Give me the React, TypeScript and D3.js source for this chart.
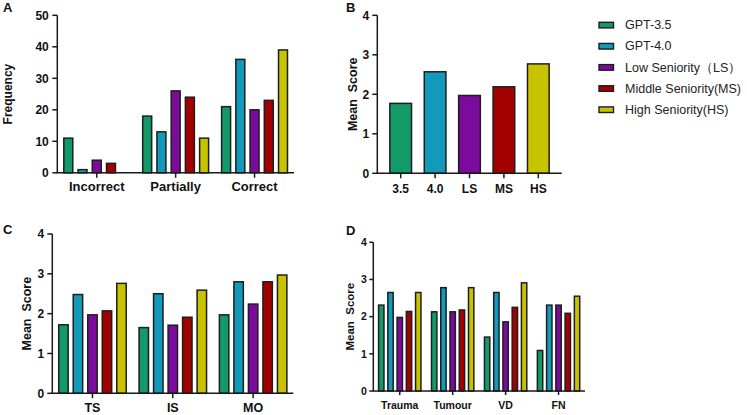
import React from "react";
import * as d3 from "d3";

// ---------- data ----------
const seriesNames = ["GPT-3.5", "GPT-4.0", "Low Seniority（LS）", "Middle Seniority(MS)", "High Seniority(HS)"];
const seriesColors = ["#129A68", "#1399BA", "#7A0B9C", "#A30000", "#C8C300"];

// Panel A – frequency
const aCategories = ["Incorrect", "Partially", "Correct"];
const aGPT35 = [11, 18, 21];
const aGPT40 = [1, 13, 36];
const aLS = [4, 26, 20];
const aMS = [3, 24, 23];
const aHS = [0, 11, 39];
const aTicks = [0, 10, 20, 30, 40, 50];

// Panel B – overall mean score
const bCategories = ["3.5", "4.0", "LS", "MS", "HS"];
const bValues = [1.77, 2.57, 1.97, 2.19, 2.77];
const scoreTicks = [0, 1, 2, 3, 4];

// Panel C
const cCategories = ["TS", "IS", "MO"];
const cGPT35 = [1.72, 1.65, 1.97];
const cGPT40 = [2.48, 2.5, 2.8];
const cLS = [1.97, 1.71, 2.24];
const cMS = [2.07, 1.91, 2.8];
const cHS = [2.76, 2.59, 2.97];

// Panel D
const dCategories = ["Trauma", "Tumour", "VD", "FN"];
const dGPT35 = [2.31, 2.13, 1.45, 1.09];
const dGPT40 = [2.65, 2.78, 2.65, 2.31];
const dLS = [1.98, 2.13, 1.86, 2.31];
const dMS = [2.14, 2.18, 2.25, 2.09];
const dHS = [2.65, 2.78, 2.91, 2.55];

const FONT = "Arial, 'Liberation Sans', Helvetica, sans-serif";
const AXIS = "#1a1a1a";
const BAR_STROKE = "#1e1e1e";
const BAR_SW = 1.5;

type PanelCfg = {
  letter: string;
  letterX: number;
  letterY: number;
  x0: number;
  x1: number;
  yTop: number;
  yBottom: number;
  yMax: number;
  ticks: number[];
  categories: string[];
  series: number[][];
  innerFrac: number;
  barPad: number;
  tickFont: number;
  tickLen: number;
  tickGap: number;
  catFont: number;
  catBaseline: number;
  yLabel: string;
  yLabelX: number;
  yLabelFont: number;
};

function GroupedPanel({ cfg }: { cfg: PanelCfg }) {
  const y = d3.scaleLinear().domain([0, cfg.yMax]).range([cfg.yBottom, cfg.yTop]);
  const gx = d3.scaleBand<string>().domain(cfg.categories).range([cfg.x0, cfg.x1]).padding(0);
  const inner = d3
    .scaleBand<number>()
    .domain(d3.range(cfg.series.length))
    .range([0, gx.bandwidth() * cfg.innerFrac])
    .paddingInner(cfg.barPad)
    .paddingOuter(0);
  const innerW = gx.bandwidth() * cfg.innerFrac;
  return (
    <g>
      <text x={cfg.letterX} y={cfg.letterY} fontSize={13} fontWeight="bold" fontFamily={FONT} fill="#111">
        {cfg.letter}
      </text>
      {cfg.categories.map((c, ci) => {
        const gStart = (gx(c) as number) + (gx.bandwidth() - innerW) / 2;
        return cfg.series.map((s, si) => {
          const v = s[ci];
          if (v <= 0) return null;
          return (
            <rect
              key={c + si}
              x={gStart + (inner(si) as number)}
              y={y(v)}
              width={inner.bandwidth()}
              height={cfg.yBottom - y(v)}
              fill={seriesColors[si]}
              stroke={BAR_STROKE}
              strokeWidth={BAR_SW}
            />
          );
        });
      })}
      {/* y axis */}
      <line x1={cfg.x0} x2={cfg.x0} y1={cfg.yTop} y2={cfg.yBottom} stroke={AXIS} strokeWidth={1.5} />
      {cfg.ticks.map((t) => (
        <g key={t}>
          <line x1={cfg.x0 - cfg.tickLen} x2={cfg.x0} y1={y(t)} y2={y(t)} stroke={AXIS} strokeWidth={1.5} />
          <text
            x={cfg.x0 - cfg.tickLen - cfg.tickGap}
            y={y(t)}
            dy="0.35em"
            textAnchor="end"
            fontSize={cfg.tickFont}
            fontWeight="bold"
            fontFamily={FONT}
            fill="#111"
          >
            {t}
          </text>
        </g>
      ))}
      {/* x axis */}
      <line x1={cfg.x0 - 0.75} x2={cfg.x1} y1={cfg.yBottom} y2={cfg.yBottom} stroke={AXIS} strokeWidth={1.5} />
      {cfg.categories.map((c) => {
        const cx = (gx(c) as number) + gx.bandwidth() / 2;
        return (
          <g key={c}>
            <line x1={cx} x2={cx} y1={cfg.yBottom} y2={cfg.yBottom + cfg.tickLen} stroke={AXIS} strokeWidth={1.5} />
            <text
              x={cx}
              y={cfg.catBaseline}
              textAnchor="middle"
              fontSize={cfg.catFont}
              fontWeight="bold"
              fontFamily={FONT}
              fill="#111"
            >
              {c}
            </text>
          </g>
        );
      })}
      <text
        transform={`translate(${cfg.yLabelX},${(cfg.yTop + cfg.yBottom) / 2}) rotate(-90)`}
        textAnchor="middle"
        fontSize={cfg.yLabelFont}
        fontWeight="bold"
        fontFamily={FONT}
        fill="#111"
        style={{ whiteSpace: "pre" }}
      >
        {cfg.yLabel}
      </text>
    </g>
  );
}

function PanelB() {
  const x0 = 377.3;
  const x1 = 561.7;
  const yTop = 15.3;
  const yBottom = 173.3;
  const y = d3.scaleLinear().domain([0, 4]).range([yBottom, yTop]);
  const x = d3.scaleBand<string>().domain(bCategories).range([x0, x1]).paddingInner(0.37).paddingOuter(0.365);
  return (
    <g>
      <text x={346} y={12} fontSize={13} fontWeight="bold" fontFamily={FONT} fill="#111">
        B
      </text>
      {bCategories.map((c, i) => (
        <rect
          key={c}
          x={x(c) as number}
          y={y(bValues[i])}
          width={x.bandwidth()}
          height={yBottom - y(bValues[i])}
          fill={seriesColors[i]}
          stroke={BAR_STROKE}
          strokeWidth={BAR_SW}
        />
      ))}
      <line x1={x0} x2={x0} y1={yTop} y2={yBottom} stroke={AXIS} strokeWidth={1.5} />
      {scoreTicks.map((t) => (
        <g key={t}>
          <line x1={x0 - 5} x2={x0} y1={y(t)} y2={y(t)} stroke={AXIS} strokeWidth={1.5} />
          <text x={x0 - 8} y={y(t)} dy="0.35em" textAnchor="end" fontSize={12} fontWeight="bold" fontFamily={FONT} fill="#111">
            {t}
          </text>
        </g>
      ))}
      <line x1={x0 - 0.75} x2={x1} y1={yBottom} y2={yBottom} stroke={AXIS} strokeWidth={1.5} />
      {bCategories.map((c) => {
        const cx = (x(c) as number) + x.bandwidth() / 2;
        return (
          <g key={c}>
            <line x1={cx} x2={cx} y1={yBottom} y2={yBottom + 5} stroke={AXIS} strokeWidth={1.5} />
            <text x={cx} y={193.3} textAnchor="middle" fontSize={12} fontWeight="bold" fontFamily={FONT} fill="#111">
              {c}
            </text>
          </g>
        );
      })}
      <text
        transform={`translate(356.5,${(yTop + yBottom) / 2}) rotate(-90)`}
        textAnchor="middle"
        fontSize={12.5}
        fontWeight="bold"
        fontFamily={FONT}
        fill="#111"
        style={{ whiteSpace: "pre" }}
      >
        {"Mean  Score"}
      </text>
    </g>
  );
}

function Legend() {
  const rowY = d3.scaleLinear().domain([0, 4]).range([21.7, 106.3]);
  return (
    <g>
      {seriesNames.map((n, i) => (
        <g key={n}>
          <rect x={599} y={rowY(i) + 0.6} width={14.5} height={5.6} fill={seriesColors[i]} stroke={BAR_STROKE} strokeWidth={1.4} />
          <text x={625} y={rowY(i) + 7.5} fontSize={12.5} fontFamily={FONT} fill="#222">
            {n}
          </text>
        </g>
      ))}
    </g>
  );
}

export default function App() {
  const panelA: PanelCfg = {
    letter: "A",
    letterX: 3,
    letterY: 12,
    x0: 57.3,
    x1: 294,
    yTop: 15.3,
    yBottom: 172.8,
    yMax: 50,
    ticks: aTicks,
    categories: aCategories,
    series: [aGPT35, aGPT40, aLS, aMS, aHS],
    innerFrac: 0.835,
    barPad: 0.37,
    tickFont: 12,
    tickLen: 5,
    tickGap: 3.5,
    catFont: 13,
    catBaseline: 190.7,
    yLabel: "Frequency",
    yLabelX: 12,
    yLabelFont: 12,
  };
  const panelC: PanelCfg = {
    letter: "C",
    letterX: 3,
    letterY: 234,
    x0: 52.3,
    x1: 293.3,
    yTop: 234,
    yBottom: 393.3,
    yMax: 4,
    ticks: scoreTicks,
    categories: cCategories,
    series: [cGPT35, cGPT40, cLS, cMS, cHS],
    innerFrac: 0.84,
    barPad: 0.35,
    tickFont: 12,
    tickLen: 5,
    tickGap: 3,
    catFont: 12.5,
    catBaseline: 412,
    yLabel: "Mean  Score",
    yLabelX: 30.5,
    yLabelFont: 12.5,
  };
  const panelD: PanelCfg = {
    letter: "D",
    letterX: 346,
    letterY: 235,
    x0: 373.3,
    x1: 585,
    yTop: 242.3,
    yBottom: 391,
    yMax: 4,
    ticks: scoreTicks,
    categories: dCategories,
    series: [dGPT35, dGPT40, dLS, dMS, dHS],
    innerFrac: 0.8,
    barPad: 0.42,
    tickFont: 10.5,
    tickLen: 4,
    tickGap: 2.5,
    catFont: 10.5,
    catBaseline: 409,
    yLabel: "Mean  Score",
    yLabelX: 354.3,
    yLabelFont: 11.5,
  };
  return (
    <svg
      width={747}
      height={415}
      viewBox="0 0 747 415"
      style={{ position: "absolute", left: 0, top: 0, display: "block", background: "#fff" }}
    >
      <rect width={747} height={415} fill="#fff" />
      <GroupedPanel cfg={panelA} />
      <PanelB />
      <Legend />
      <GroupedPanel cfg={panelC} />
      <GroupedPanel cfg={panelD} />
    </svg>
  );
}
